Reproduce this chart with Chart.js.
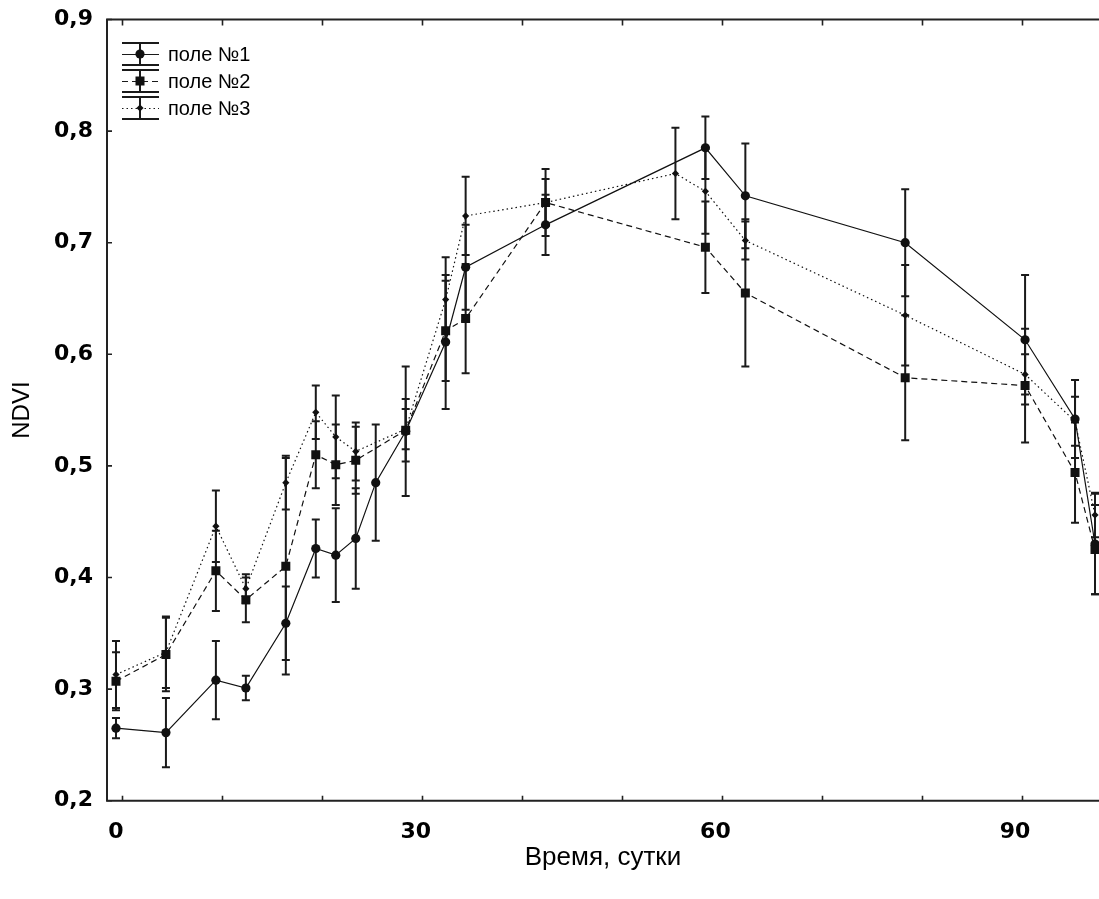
<!DOCTYPE html>
<html><head><meta charset="utf-8">
<script src="https://cdn.jsdelivr.net/npm/chart.js@4/dist/chart.umd.min.js"></script>
<style>html,body{margin:0;padding:0;background:#fff;} #wrap{width:1099px;height:899px;}</style>
</head><body><div id="wrap"><canvas id="c" width="1099" height="899"></canvas></div>
<script>
// ---------- data ----------
const seriesLabels = ['поле №1', 'поле №2', 'поле №3'];

const days1  = [0, 5, 10, 13, 17, 20, 22, 24, 26, 29, 33, 35, 43, 59, 63, 79, 91, 96, 98];
const field1 = [0.265, 0.261, 0.308, 0.301, 0.359, 0.426, 0.420, 0.435, 0.485, 0.531, 0.611, 0.678, 0.716, 0.785, 0.742, 0.700, 0.613, 0.542, 0.430];
const err1   = [0.009, 0.031, 0.035, 0.011, 0.033, 0.026, 0.042, 0.045, 0.052, 0.058, 0.060, 0.038, 0.027, 0.028, 0.047, 0.048, 0.058, 0.035, 0.045];

const days2  = [0, 5, 10, 13, 17, 20, 22, 24, 29, 33, 35, 43, 59, 63, 79, 91, 96, 98];
const field2 = [0.307, 0.331, 0.406, 0.380, 0.410, 0.510, 0.501, 0.505, 0.532, 0.621, 0.632, 0.736, 0.696, 0.655, 0.579, 0.572, 0.494, 0.425];
const err2   = [0.026, 0.033, 0.036, 0.020, 0.097, 0.030, 0.036, 0.030, 0.028, 0.045, 0.049, 0.030, 0.041, 0.066, 0.056, 0.051, 0.045, 0.040];

const days3  = [0, 5, 10, 13, 17, 20, 22, 24, 29, 33, 35, 43, 56, 59, 63, 79, 91, 96, 98];
const field3 = [0.313, 0.333, 0.446, 0.390, 0.485, 0.548, 0.526, 0.513, 0.533, 0.649, 0.724, 0.736, 0.762, 0.746, 0.702, 0.635, 0.582, 0.540, 0.456];
const err3   = [0.030, 0.032, 0.032, 0.013, 0.024, 0.024, 0.037, 0.026, 0.018, 0.038, 0.035, 0.021, 0.041, 0.038, 0.017, 0.045, 0.018, 0.022, 0.020];

const xTicks  = [0, 10, 20, 30, 40, 50, 60, 70, 80, 90];
const xLabels = [0, 30, 60, 90];
const yTicks  = [0.2, 0.3, 0.4, 0.5, 0.6, 0.7, 0.8, 0.9];
const xTitle = 'Время, сутки';
const yTitle = 'NDVI';

// ---------- helpers ----------
const pts = (xs, ys) => xs.map((d, i) => ({x: d, y: ys[i]}));
const INK = '#111';
const TICK_SHIFT = 6.5; // tick marks sit slightly right of the value (as in the source)

function drawMarker(ctx, style, r, x, y) {
  ctx.beginPath();
  if (style === 'circle') { ctx.arc(x, y, r, 0, Math.PI * 2); }
  else if (style === 'rect') { ctx.rect(x - r, y - r, 2 * r, 2 * r); }
  else { ctx.moveTo(x, y - r); ctx.lineTo(x + r, y); ctx.lineTo(x, y + r); ctx.lineTo(x - r, y); ctx.closePath(); }
  ctx.fillStyle = INK; ctx.fill();
}

const errorBars = {
  id: 'errorBars',
  beforeDatasetsDraw(chart) {
    const {ctx, chartArea: ca, scales: {x, y}} = chart;
    ctx.save();
    ctx.beginPath(); ctx.rect(ca.left, 0, ca.right - ca.left, chart.height); ctx.clip();
    ctx.strokeStyle = '#1a1a1a'; ctx.lineWidth = 2;
    chart.data.datasets.forEach(ds => {
      ds.data.forEach((p, i) => {
        const e = ds.errors[i];
        const px = x.getPixelForValue(p.x);
        const y1 = y.getPixelForValue(p.y + e), y2 = y.getPixelForValue(p.y - e);
        ctx.beginPath();
        ctx.moveTo(px, y1); ctx.lineTo(px, y2);
        ctx.moveTo(px - 4, y1); ctx.lineTo(px + 4, y1);
        ctx.moveTo(px - 4, y2); ctx.lineTo(px + 4, y2);
        ctx.stroke();
      });
    });
    ctx.restore();
  }
};

const frame = {
  id: 'frame',
  afterDraw(chart) {
    const {ctx, chartArea: ca, scales: {x, y}} = chart;
    ctx.save();
    ctx.strokeStyle = '#222'; ctx.lineWidth = 2;
    ctx.beginPath();
    ctx.moveTo(ca.left, ca.top); ctx.lineTo(ca.right, ca.top);
    ctx.moveTo(ca.left, ca.top - 1); ctx.lineTo(ca.left, ca.bottom + 1);
    ctx.moveTo(ca.left - 1, ca.bottom); ctx.lineTo(ca.right, ca.bottom);
    ctx.stroke();
    ctx.lineWidth = 1.6;
    ctx.beginPath();
    x.ticks.forEach(t => {
      const px = Math.round(x.getPixelForValue(t.value) + TICK_SHIFT) + 0.5;
      ctx.moveTo(px, ca.bottom); ctx.lineTo(px, ca.bottom - 5);
      ctx.moveTo(px, ca.top); ctx.lineTo(px, ca.top + 6);
    });
    y.ticks.forEach(t => {
      const py = y.getPixelForValue(t.value);
      ctx.moveTo(ca.left, py); ctx.lineTo(ca.left + 5, py);
    });
    ctx.stroke();
    ctx.restore();
  }
};

const legendBox = {
  id: 'legendBox',
  afterDraw(chart) {
    const {ctx} = chart;
    ctx.save();
    chart.data.datasets.forEach((ds, i) => {
      const yc = 54 + i * 27;
      const x0 = 122, x1 = 159, xc = 140;
      ctx.strokeStyle = '#1a1a1a'; ctx.lineWidth = 2; ctx.setLineDash([]);
      ctx.beginPath();
      ctx.moveTo(x0, yc - 11); ctx.lineTo(x1, yc - 11);
      ctx.moveTo(x0, yc + 11); ctx.lineTo(x1, yc + 11);
      ctx.moveTo(xc, yc - 11); ctx.lineTo(xc, yc + 11);
      ctx.stroke();
      ctx.lineWidth = ds.borderWidth; ctx.setLineDash(ds.borderDash || []);
      ctx.beginPath(); ctx.moveTo(x0, yc + 0.5); ctx.lineTo(x1, yc + 0.5); ctx.stroke();
      ctx.setLineDash([]);
      drawMarker(ctx, ds.markerStyle, ds.markerSize, xc, yc);
      ctx.fillStyle = '#000';
      ctx.font = '20px "Liberation Sans", Arial, sans-serif';
      ctx.textBaseline = 'middle'; ctx.textAlign = 'left';
      ctx.fillText(ds.label, 168, yc + 1);
    });
    ctx.restore();
  }
};

const markers = {
  id: 'markers',
  afterDatasetsDraw(chart) {
    const {ctx, chartArea: ca, scales: {x, y}} = chart;
    ctx.save();
    ctx.beginPath(); ctx.rect(ca.left, ca.top, ca.right - ca.left, ca.bottom - ca.top); ctx.clip();
    chart.data.datasets.forEach(ds => {
      ds.data.forEach(p => drawMarker(ctx, ds.markerStyle, ds.markerSize, x.getPixelForValue(p.x), y.getPixelForValue(p.y)));
    });
    ctx.restore();
  }
};

const mkDs = (label, xs, ys, errs, dash, style, size) => ({
  label, data: pts(xs, ys), errors: errs,
  borderColor: INK, borderWidth: 1.2, borderDash: dash,
  pointRadius: 0, markerStyle: style, markerSize: size,
  tension: 0, fill: false
});

new Chart(document.getElementById('c'), {
  type: 'line',
  data: {
    datasets: [
      mkDs(seriesLabels[0], days1, field1, err1, [], 'circle', 4.6),
      mkDs(seriesLabels[1], days2, field2, err2, [6, 4], 'rect', 4.5),
      mkDs(seriesLabels[2], days3, field3, err3, [1.5, 3], 'diamond', 3.6)
    ]
  },
  options: {
    responsive: false, animation: false, devicePixelRatio: 1,
    layout: {padding: {top: 19.5, right: 0, bottom: 0, left: 0}},
    plugins: {legend: {display: false}, tooltip: {enabled: false}},
    scales: {
      x: {
        type: 'linear', min: -0.9, max: 98.4,
        afterBuildTicks: s => { s.ticks = xTicks.map(v => ({value: v})); },
        afterFit: s => { s.height = 98.3; s.paddingLeft = 0; s.paddingRight = 0; },
        grid: {display: false, drawTicks: false},
        border: {display: false},
        ticks: {
          autoSkip: false, maxRotation: 0, padding: 18, color: '#000',
          font: {family: '"DejaVu Sans", sans-serif', size: 22, weight: 'bold'},
          callback: v => xLabels.includes(v) ? String(v) : ''
        },
        title: {display: true, text: xTitle, color: '#000', padding: {top: 0, bottom: 26},
          font: {family: '"Liberation Sans", Arial, sans-serif', size: 26}}
      },
      y: {
        min: 0.2, max: 0.9,
        afterBuildTicks: s => { s.ticks = yTicks.map(v => ({value: v})); },
        afterFit: s => { s.width = 107; s.paddingTop = 0; s.paddingBottom = 0; },
        grid: {display: false, drawTicks: false},
        border: {display: false},
        ticks: {
          padding: 14, color: '#000',
          font: {family: '"DejaVu Sans", sans-serif', size: 22, weight: 'bold'},
          callback: v => v.toFixed(1).replace('.', ',')
        },
        title: {display: true, text: yTitle, color: '#000', padding: {top: 8, bottom: 0},
          font: {family: '"Liberation Sans", Arial, sans-serif', size: 24}}
      }
    }
  },
  plugins: [errorBars, markers, frame, legendBox]
});
</script>
</body></html>
